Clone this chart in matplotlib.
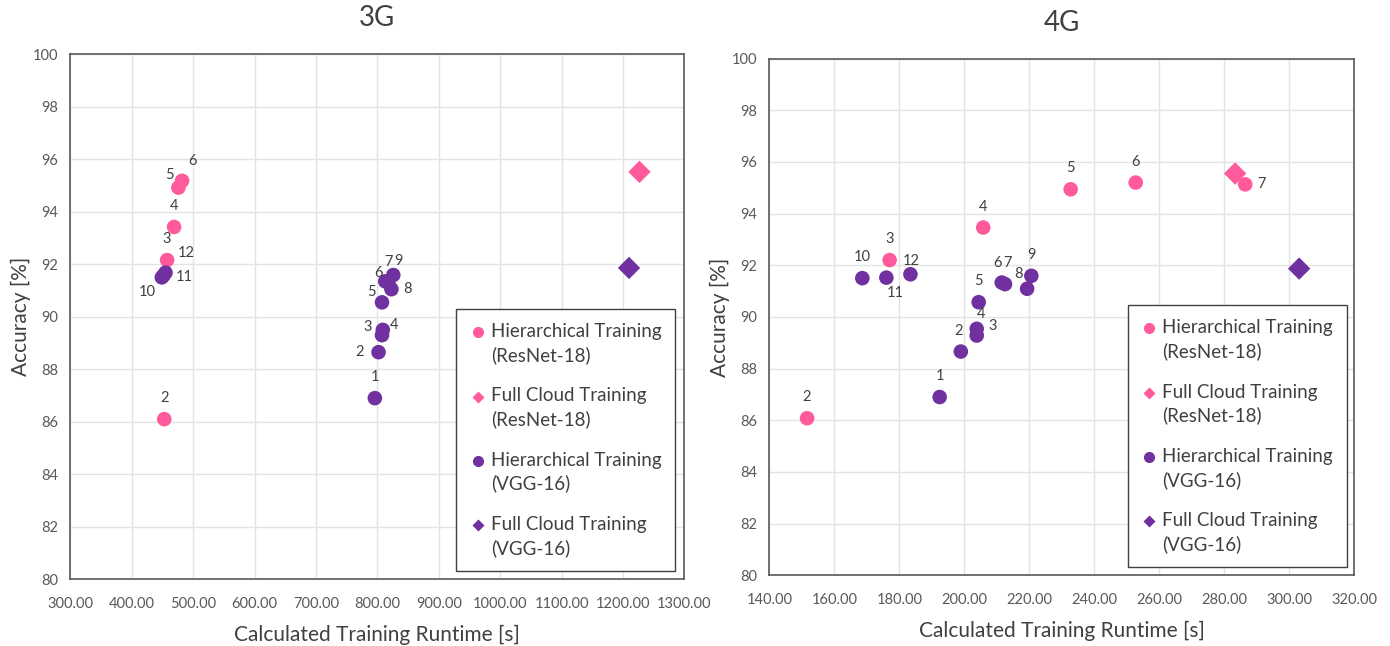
import matplotlib.pyplot as plt
from matplotlib.lines import Line2D

plt.rcParams['font.family'] = ['Lato', 'DejaVu Sans']

PINK = '#FF5A9B'
PURPLE = '#7030A0'
TXT = '#404040'

# ---- 3G data ----
g3_res_ids = [2, 3, 4, 5, 6]
g3_res_x = [453, 457.6, 469, 476, 482]
g3_res_y = [86.1, 92.16, 93.42, 94.92, 95.18]
g3_vgg_ids = [1, 2, 3, 4, 5, 6, 7, 8, 9, 10, 11, 12]
g3_vgg_x = [796, 802, 807.6, 809, 807.6, 813, 818, 823, 826, 449, 452, 455]
g3_vgg_y = [86.9, 88.65, 89.3, 89.5, 90.55, 91.35, 91.3, 91.05, 91.59, 91.5, 91.58, 91.68]
g3_cloud_res = (1227, 95.52)
g3_cloud_vgg = (1210, 91.86)

# ---- 4G data ----
g4_res_ids = [2, 3, 4, 5, 6, 7]
g4_res_x = [151.6, 177.0, 205.8, 232.7, 252.7, 286.4]
g4_res_y = [86.08, 92.2, 93.46, 94.94, 95.2, 95.13]
g4_vgg_ids = [1, 2, 3, 4, 5, 6, 7, 8, 9, 10, 11, 12]
g4_vgg_x = [192.4, 198.9, 203.8, 203.8, 204.4, 211.5, 212.5, 219.3, 220.6, 168.6, 176.0, 183.4]
g4_vgg_y = [86.9, 88.66, 89.28, 89.54, 90.57, 91.33, 91.27, 91.09, 91.59, 91.5, 91.52, 91.65]
g4_cloud_res = (283.3, 95.55)
g4_cloud_vgg = (303.0, 91.87)

legend_labels = ['Hierarchical Training\n(ResNet-18)', 'Full Cloud Training\n(ResNet-18)',
                 'Hierarchical Training\n(VGG-16)', 'Full Cloud Training\n(VGG-16)']

# label offsets in pixels (dx, dy up)
ab = (0, 21)
g3_res_off = {2: ab, 3: ab, 4: ab, 5: (-9, 13), 6: (10, 20)}
g3_vgg_off = {1: ab, 2: (-19, 0), 3: (-14, 8), 4: (11, 5), 5: (-11, 10), 6: (-7, 8),
              7: (0, 21), 8: (16, 0), 9: (5, 14), 10: (-15, -15), 11: (21, -2), 12: (21, 20)}
g4_res_off = {2: ab, 3: ab, 4: ab, 5: ab, 6: ab, 7: (16, 0)}
g4_vgg_off = {1: ab, 2: (-2, 21), 3: (16, 10), 4: (4, 15), 5: ab, 6: (-4, 20), 7: (2, 21),
              8: (-9, 15), 9: ab, 10: ab, 11: (9, -15), 12: (1, 13)}


def draw(ax, title, xlim, xstep, res, vgg, cres, cvgg, res_off, vgg_off, leg_anchor):
    ax.set_xlim(*xlim)
    ax.set_ylim(80, 100)
    xt = [xlim[0] + i * xstep for i in range(int(round((xlim[1] - xlim[0]) / xstep)) + 1)]
    ax.set_xticks(xt)
    ax.set_xticklabels(['%.2f' % v for v in xt])
    ax.set_yticks(range(80, 101, 2))
    ax.grid(True, color='#E3E3E3', linewidth=1)
    ax.set_axisbelow(True)
    ax.tick_params(length=0, labelsize=10.5, labelcolor='#595959')
    ax.tick_params(axis='x', pad=13)
    ax.tick_params(axis='y', pad=9)
    for s in ax.spines.values():
        s.set_color('#595959')
        s.set_linewidth(1.2)

    ax.scatter(res[1], res[2], s=110, color=PINK, edgecolors='none', zorder=3)
    ax.scatter(vgg[1], vgg[2], s=110, color=PURPLE, edgecolors='none', zorder=3)
    ax.scatter([cres[0]], [cres[1]], marker='D', s=130, color=PINK, edgecolors='none', zorder=3)
    ax.scatter([cvgg[0]], [cvgg[1]], marker='D', s=130, color=PURPLE, edgecolors='none', zorder=3)

    for ids, xs, ys, off in [(res[0], res[1], res[2], res_off), (vgg[0], vgg[1], vgg[2], vgg_off)]:
        for i, x, y in zip(ids, xs, ys):
            dx, dy = off[i]
            ax.annotate(str(i), (x, y), xytext=(dx, dy), textcoords='offset pixels',
                        ha='center', va='center', fontsize=10.5, color=TXT)

    handles = [Line2D([], [], ls='none', marker='o', ms=8, color=PINK, mec='none'),
               Line2D([], [], ls='none', marker='D', ms=6.5, color=PINK, mec='none'),
               Line2D([], [], ls='none', marker='o', ms=8, color=PURPLE, mec='none'),
               Line2D([], [], ls='none', marker='D', ms=6.5, color=PURPLE, mec='none')]
    leg = ax.legend(handles, legend_labels,
                    loc='lower right', bbox_to_anchor=leg_anchor, fontsize=13.5,
                    fancybox=False, edgecolor='#404040', framealpha=1,
                    handletextpad=0.3, handlelength=0.8, labelspacing=1.25,
                    borderpad=0.75, borderaxespad=0.05)
    leg.get_frame().set_linewidth(1.0)
    for t in leg.get_texts():
        t.set_color(TXT)
        t.set_linespacing(1.4)
    # put the marker next to the first text line
    for h in leg.legend_handles:
        h.set_ydata([y + 8.5 for y in h.get_ydata()])

    ax.set_title(title, fontsize=20, color=TXT, pad=20)
    ax.set_xlabel('Calculated Training Runtime [s]', fontsize=15, color=TXT, labelpad=10)
    ax.set_ylabel('Accuracy [%]', fontsize=15, color=TXT, labelpad=1)


fig = plt.figure(figsize=(13.9, 6.46), dpi=100)
ax1 = fig.add_axes([0.0506, 0.1033, 0.4417, 0.8127])
ax2 = fig.add_axes([0.5535, 0.1094, 0.4209, 0.800])

draw(ax1, '3G', (300, 1300), 100, (g3_res_ids, g3_res_x, g3_res_y),
     (g3_vgg_ids, g3_vgg_x, g3_vgg_y), g3_cloud_res, g3_cloud_vgg,
     g3_res_off, g3_vgg_off, (0.987, 0.014))
draw(ax2, '4G', (140, 320), 20, (g4_res_ids, g4_res_x, g4_res_y),
     (g4_vgg_ids, g4_vgg_x, g4_vgg_y), g4_cloud_res, g4_cloud_vgg,
     g4_res_off, g4_vgg_off, (0.989, 0.014))

fig.savefig('out.png', dpi=100)
